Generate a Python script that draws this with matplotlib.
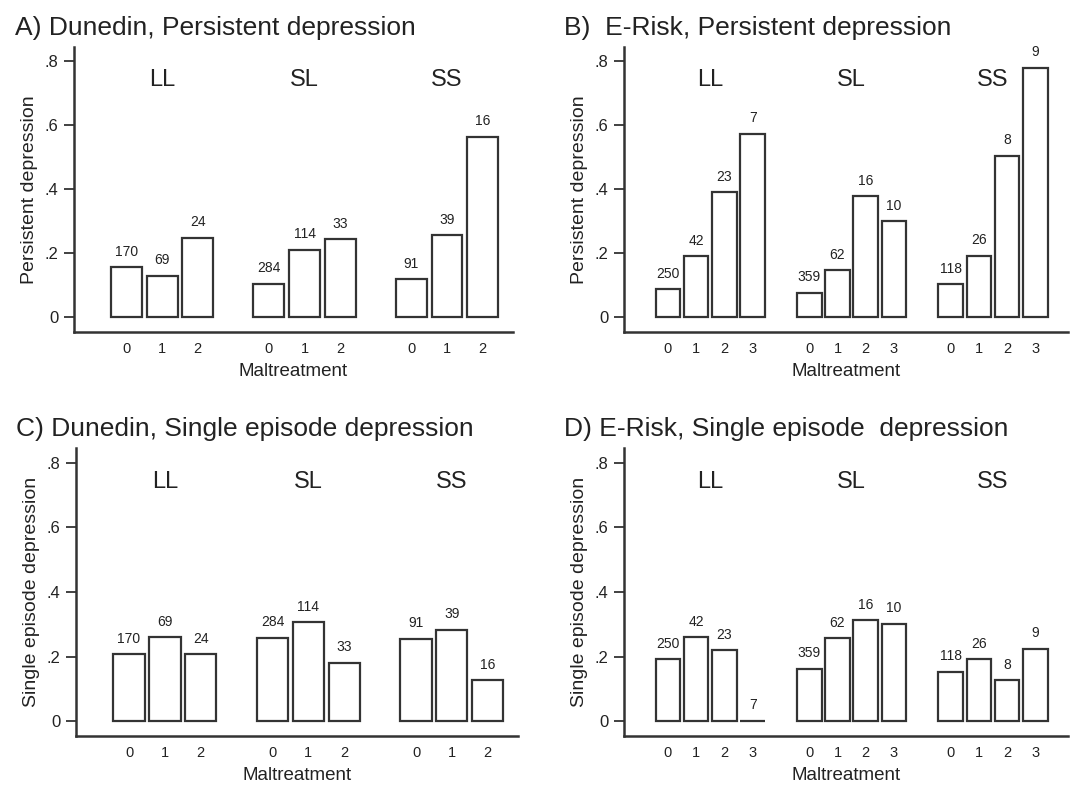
import numpy as np
import matplotlib
matplotlib.use("Agg")
import matplotlib.pyplot as plt

plt.rcParams['font.family'] = ['Liberation Sans', 'DejaVu Sans']

groups = ['LL', 'SL', 'SS']

# Dunedin: maltreatment 0-2
dun_levels = ['0', '1', '2']
dun_n = [[170, 69, 24], [284, 114, 33], [91, 39, 16]]
dun_persistent = [[0.156, 0.129, 0.248], [0.104, 0.211, 0.243], [0.119, 0.256, 0.565]]
dun_single = [[0.207, 0.261, 0.208], [0.258, 0.307, 0.181], [0.255, 0.283, 0.126]]

# E-Risk: maltreatment 0-3
erisk_levels = ['0', '1', '2', '3']
erisk_n = [[250, 42, 23, 7], [359, 62, 16, 10], [118, 26, 8, 9]]
erisk_persistent = [[0.087, 0.190, 0.391, 0.574], [0.076, 0.146, 0.378, 0.300], [0.103, 0.192, 0.505, 0.781]]
erisk_single = [[0.192, 0.260, 0.219, 0.002], [0.162, 0.257, 0.312, 0.302], [0.153, 0.192, 0.126, 0.224]]

txt = '#222222'
line = '#333333'

fig = plt.figure(figsize=(10.7, 7.85), dpi=100)

panels = [
    ('A) Dunedin, Persistent depression', 'Persistent depression', dun_levels, dun_n, dun_persistent,
     [0.069, 0.577, 0.410, 0.363]),
    ('B)  E-Risk, Persistent depression', 'Persistent depression', erisk_levels, erisk_n, erisk_persistent,
     [0.583, 0.577, 0.415, 0.363]),
    ('C) Dunedin, Single episode depression', 'Single episode depression', dun_levels, dun_n, dun_single,
     [0.071, 0.062, 0.413, 0.367]),
    ('D) E-Risk, Single episode  depression', 'Single episode depression', erisk_levels, erisk_n, erisk_single,
     [0.583, 0.062, 0.415, 0.367]),
]

for title, ylab, levels, counts, vals, rect in panels:
    ax = fig.add_axes(rect)
    k = len(levels)
    step = k + 1
    xs, ticklabs = [], []
    for g, grp in enumerate(groups):
        x = np.arange(k) + g * step
        ax.bar(x, vals[g], width=0.87, color='white', edgecolor=line, linewidth=1.6)
        for xi, v, n in zip(x, vals[g], counts[g]):
            ax.annotate(str(n), (xi, v), xytext=(0, 6), textcoords='offset points',
                        ha='center', va='bottom', fontsize=10, color=txt)
        ax.text(x.mean(), 0.742, grp, ha='center', va='center', fontsize=17, color=txt)
        xs.extend(x)
        ticklabs.extend(levels)
    last = (len(groups) - 1) * step + k - 1
    if k == 3:
        ax.set_xlim(-1.48, last + 0.84)
    else:
        ax.set_xlim(-1.56, last + 1.15)
    ax.set_ylim(-0.047, 0.845)
    ax.set_yticks([0, 0.2, 0.4, 0.6, 0.8])
    ax.set_yticklabels(['0', '.2', '.4', '.6', '.8'])
    ax.set_xticks(xs)
    ax.set_xticklabels(ticklabs)
    ax.tick_params(axis='x', length=0, pad=7, labelsize=10.5, colors=txt)
    ax.tick_params(axis='y', length=7, width=1.3, color=line, labelsize=12, colors=txt, pad=4)
    for s in ['top', 'right']:
        ax.spines[s].set_visible(False)
    for s in ['left', 'bottom']:
        ax.spines[s].set_color(line)
        ax.spines[s].set_linewidth(1.8)
    ax.set_ylabel(ylab, fontsize=14, color=txt, labelpad=5)
    ax.set_xlabel('Maltreatment', fontsize=13.5, color=txt, labelpad=5)
    ax.text(-0.135, 1.025, title, transform=ax.transAxes, fontsize=19, color=txt,
            ha='left', va='bottom')

fig.savefig('out.png', dpi=100, facecolor='white')
